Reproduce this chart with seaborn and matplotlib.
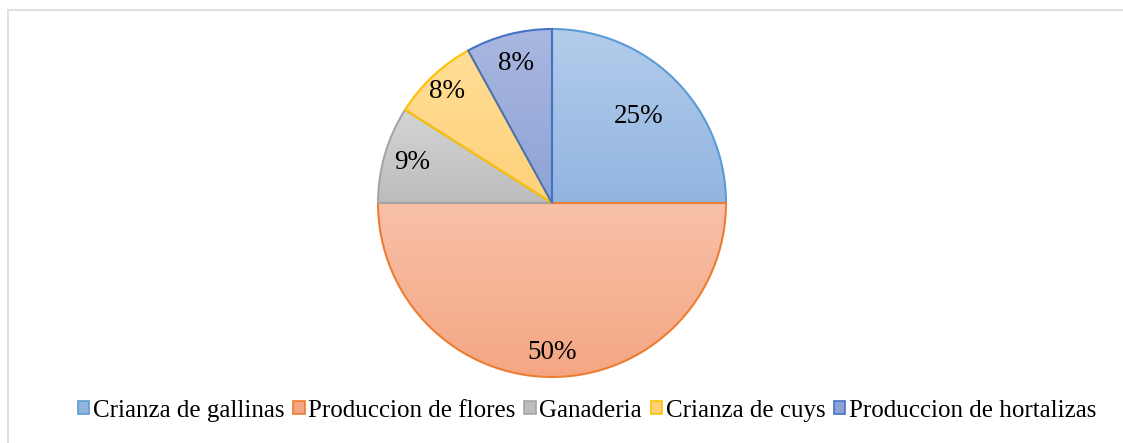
import numpy as np
import seaborn as sns
import matplotlib.pyplot as plt
from matplotlib.colors import LinearSegmentedColormap
from matplotlib.patches import Patch
from matplotlib.lines import Line2D

categories = ["Crianza de gallinas", "Produccion de flores", "Ganaderia",
              "Crianza de cuys", "Produccion de hortalizas"]
values = [25, 50, 9, 8, 8]

# gradient top / bottom colour and edge colour of each slice
top_colors = ["#b3cceb", "#f8c1a9", "#d5d5d5", "#ffdd96", "#a9b8e0"]
bottom_colors = ["#92b5e0", "#f4a682", "#bcbcbc", "#ffd27a", "#8ea2d6"]
edge_colors = ["#5b9bd5", "#ed7d31", "#a5a5a5", "#ffc000", "#4472c4"]
label_radius = [0.70, 0.86, 0.84, 0.88, 0.83]

sns.set_theme(style="white")
plt.rcParams["font.family"] = ["Liberation Serif", "DejaVu Serif"]
plt.rcParams["text.color"] = "black"

W, H = 1123, 443
fig = plt.figure(figsize=(W / 100, H / 100), dpi=100)
cx, cy, r = 552, 203, 174
ax = fig.add_axes([(cx - r) / W, (H - cy - r) / H, 2 * r / W, 2 * r / H])

wedges, texts, autotexts = ax.pie(
    values, startangle=90, counterclock=False, autopct="%1.0f%%",
    wedgeprops=dict(linewidth=1.5), textprops=dict(fontsize=19.5, color="black"))

for i, w in enumerate(wedges):
    w.set_facecolor("none")
    w.set_edgecolor(edge_colors[i])
    w.set_zorder(3)
    w.set_clip_on(False)
    ext = w.get_path().get_extents()
    cmap = LinearSegmentedColormap.from_list("g%d" % i, [top_colors[i], bottom_colors[i]])
    grad = np.linspace(0, 1, 256).reshape(-1, 1)
    im = ax.imshow(grad, cmap=cmap, aspect="auto", origin="upper",
                   extent=[ext.x0, ext.x1, ext.y0, ext.y1], zorder=2)
    im.set_clip_path(w)
    mid = np.deg2rad((w.theta1 + w.theta2) / 2)
    autotexts[i].set_position((label_radius[i] * np.cos(mid), label_radius[i] * np.sin(mid)))
    autotexts[i].set_zorder(5)

ax.set_xlim(-1, 1)
ax.set_ylim(-1, 1)
ax.set_aspect("equal")
ax.axis("off")

handles = [Patch(facecolor=bottom_colors[i], edgecolor=edge_colors[i], linewidth=1.2)
           for i in range(len(categories))]
fig.legend(handles, categories, loc="center", bbox_to_anchor=(0.523, 0.073),
           ncol=5, frameon=False, fontsize=18, handlelength=0.45, handleheight=0.45,
           handletextpad=0.15, columnspacing=0.35, borderaxespad=0, labelcolor="black")

# chart area border (top and left edges visible)
fig.add_artist(Line2D([8 / W, 1], [1 - 10 / H, 1 - 10 / H], color="#d9d9d9", lw=1.2))
fig.add_artist(Line2D([8 / W, 8 / W], [0, 1 - 10 / H], color="#d9d9d9", lw=1.2))

fig.savefig("out.png", dpi=100)
